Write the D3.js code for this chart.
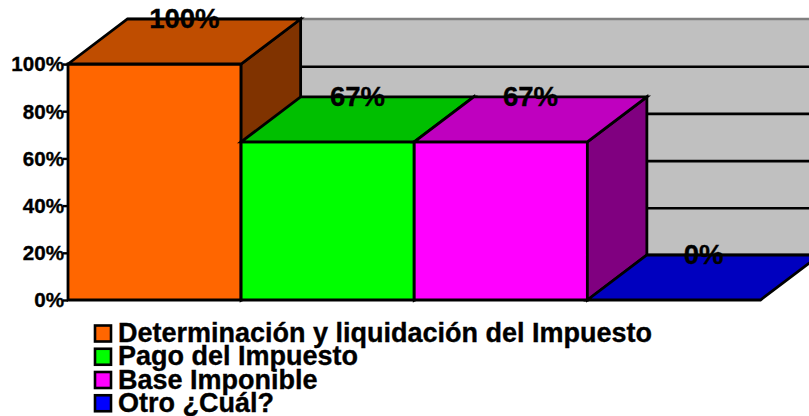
<!DOCTYPE html>
<html><head><meta charset="utf-8">
<script src="https://cdn.jsdelivr.net/npm/d3@7"></script>
<style>html,body{margin:0;padding:0;background:#fff}svg{display:block}text{font-family:"Liberation Sans",Arial,sans-serif;font-weight:bold;fill:#000;stroke:#000;stroke-width:0.35px}</style>
</head><body><svg id="c" width="809" height="416"></svg>
<script>
const categories=["Determinación y liquidación del Impuesto","Pago del Impuesto","Base Imponible","Otro ¿Cuál?"];
const values=[100,67,67,0];
const tickValues=[0,20,40,60,80,100];
const frontColors=["#FF6600","#00FF00","#FF00FF","#0000FF"];
const topColors=["#BF4D00","#00BF00","#BF00BF","#0000BF"];
const sideColors=["#803300","#008000","#800080","#000080"];
const svg=d3.select("#c");
const dx=59.5,dy=-45;
const x=d3.scaleBand().domain(categories).range([68,760.5]).padding(0);
const y=d3.scaleLinear().domain([0,100]).range([300,64]);
const line=d3.line();
const poly=(pts,fill,sw=2.8)=>svg.append("path").attr("d",line(pts)+"Z").attr("fill",fill).attr("stroke","#000").attr("stroke-width",sw).attr("stroke-linejoin","miter");
// back wall
svg.append("rect").attr("x",x.range()[0]+dx).attr("y",y(100)+dy).attr("width",809).attr("height",y(0)-y(100)).attr("fill","#C0C0C0");
svg.append("line").attr("x1",x.range()[0]+dx).attr("x2",809).attr("y1",y(100)+dy).attr("y2",y(100)+dy).attr("stroke","#808080").attr("stroke-width",2.5);
svg.selectAll(".g").data(tickValues.filter(t=>t>0&&t<100)).join("line").attr("class","g")
 .attr("x1",x.range()[0]+dx).attr("x2",809).attr("y1",t=>y(t)+dy+0.5).attr("y2",t=>y(t)+dy+0.5).attr("stroke","#000").attr("stroke-width",2.6);
svg.append("line").attr("x1",x.range()[0]+dx).attr("x2",809).attr("y1",y(0)+dy).attr("y2",y(0)+dy).attr("stroke","#000").attr("stroke-width",2.6);
// axis ticks and labels
const axis=d3.axisLeft(y).tickValues(tickValues).tickFormat(d=>d+"%").tickSize(5).tickPadding(-1);
const ag=svg.append("g").attr("transform","translate(68,0)").call(axis);
ag.select(".domain").remove();
ag.selectAll("line").attr("stroke","#000").attr("stroke-width",2.4);
ag.selectAll("text").attr("font-size",20.6).attr("font-family",null).attr("dy","0.33em").attr("fill","#000");
// bars
categories.forEach((c,i)=>{
 const x0=x(c),x1=x0+x.bandwidth(),yb=y(0),yt=y(values[i]);
 if(values[i]>0){
  poly([[x0,yb],[x1,yb],[x1,yt],[x0,yt]],frontColors[i]);
  poly([[x1,yb],[x1+dx,yb+dy],[x1+dx,yt+dy],[x1,yt]],sideColors[i]);
 }
 poly([[x0,yt],[x0+dx,yt+dy],[x1+dx,yt+dy],[x1,yt]],topColors[i]);
});
// value labels
svg.selectAll(".v").data(categories).join("text").attr("class","v")
 .attr("x",c=>x(c)+x.bandwidth()/2+dx/2).attr("y",(c,i)=>y(values[i])+dy+9)
 .attr("text-anchor","middle").attr("font-size",27.5).text((c,i)=>values[i]+"%");
// legend
const ly=d3.scaleBand().domain(categories).range([322,415]);
const lg=svg.selectAll(".l").data(categories).join("g").attr("class","l").attr("transform",c=>`translate(0,${ly(c)})`);
lg.append("rect").attr("x",95).attr("y",3.5).attr("width",16).attr("height",16).attr("fill",(c,i)=>frontColors[i]).attr("stroke","#000").attr("stroke-width",2.6);
lg.append("text").attr("x",118).attr("y",20).attr("font-size",27).text(c=>c);
</script></body></html>
